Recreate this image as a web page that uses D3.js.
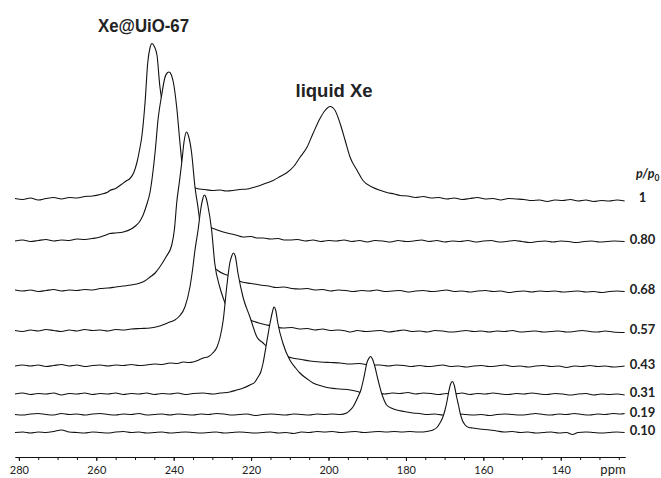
<!DOCTYPE html>
<html>
<head>
<meta charset="utf-8">
<script src="https://cdn.jsdelivr.net/npm/d3@7"></script>
<style>
body { margin: 0; background: #fff; }
</style>
</head>
<body>
<div id="chart"></div>
<script>
// relative pressures, top spectrum first
var pressures = ["1", "0.80", "0.68", "0.57", "0.43", "0.31", "0.19", "0.10"];

// each spectrum: [ppm, intensity above its own baseline]
var spec100 = [[281,1],[279,0],[277,1.5],[275,-0.5],[273,1],[271,2],[269,0.5],[267,2],[265,1.5],[263,3],[261,3.5],[259,5],[257,7.5],[256.5,9],[255,11],[253.9,14],[252.1,19],[251.3,21],[250.3,27],[249.5,37],[248.8,50],[248.2,64],[247.4,97],[246.7,137],[246.1,152],[245.6,156],[245,153],[244.3,144],[243.6,114],[243,97],[242.3,76],[241.5,56],[240.5,40],[239.5,29],[238,21],[236,15],[234,11],[232,10],[230,9],[228,9.5],[226.5,8.5],[224.7,9],[223,10],[221,10.5],[219.5,12],[217.7,14],[216,16.5],[214.3,19],[212.5,23],[210.7,27],[209,33],[207.4,42],[205.6,52],[204,66],[202.2,81],[200.9,89],[199.6,93],[198.3,89],[197,76],[195.7,59],[194.4,42],[192.6,29],[191.1,19],[188.5,12],[186.5,9],[184.9,7],[183,5.5],[181.5,4],[179.5,3.5],[177.5,2],[175.5,3],[173.5,1.5],[171.5,2],[169.5,0.5],[167.5,1.5],[165.5,0],[163.5,1],[161.5,2],[159.5,0.5],[157.5,1],[155.5,-0.5],[153.5,1],[151.5,0.5],[149.5,0],[147.5,-1],[145.5,-0.5],[143.5,-2],[141.5,-0.5],[139.5,-1],[137.5,0],[135.5,-1.5],[133.5,-0.5],[131.5,-2],[129.5,-1],[127.5,-1.5],[125.5,-0.5],[123.5,-1.5]];
var spec080 = [[281,0],[279,1],[277,-0.5],[275,0.5],[273,1.5],[271,0],[269,1],[267,0.5],[265,2],[263,1.5],[261,2.5],[259,4],[257.5,6],[256.5,7.5],[255,8],[253,9],[251,12],[249.6,16],[248.7,20],[247.9,26],[247,36],[246.1,49],[245.4,68],[244.8,89],[244,123],[243.1,146],[242.3,163],[241.7,168],[241.2,169],[240.6,166],[240.1,159],[239.2,133],[238.4,99],[237.9,79],[237,55],[236,38],[234.5,26],[233,19],[231.5,15],[230.1,13],[228,10],[226.2,8],[224,6],[222.1,4],[220,4.5],[218.5,3],[216.9,3],[215,2],[213,2.5],[211.5,1],[210,1],[208,1.5],[206,0],[204,1],[202,-0.5],[200,0.5],[198,0],[196,1],[194,-0.5],[192,0.5],[190,-1],[188,0.5],[186,0],[184,-1],[182,0.5],[180,-0.5],[178,0],[176,1],[174,-0.5],[172,0.5],[170,-1],[168,0],[166,-0.5],[164,0.5],[162,-1],[160,0],[158,0.5],[156,-1],[154,-0.5],[152,0.5],[150,-0.5],[148,-1.5],[146,-0.5],[144,0],[142,-1],[140,0],[138,-0.5],[136,-1.5],[134,-0.5],[132,0],[130,-1],[128,-0.5],[126,0],[123.5,-0.5]];
var spec068 = [[281,1],[279,0],[277,1],[275,-0.5],[273,0.5],[271,1.5],[269,0],[267,1],[265,0.5],[263,1.5],[261,1],[259,2.5],[257,3],[255,4],[253,5],[251,6],[248.7,8],[247.5,10],[246.1,14],[244.8,18],[243.6,24],[242,34],[240.5,46],[239.8,62],[239.2,89],[238.5,110],[237.9,129],[237.3,150],[236.7,159],[236.1,154],[235.4,139],[234.5,104],[233.7,83],[232.8,56],[231.9,40],[230.6,28],[228.8,21],[227,17],[225.5,15],[224,12],[222.4,9],[220,7.5],[217.7,6],[215.5,5],[213.5,3.5],[211.5,4],[209.5,2.5],[207.4,2],[205.5,2.5],[203.5,1],[201.5,1.5],[199.5,0],[197.5,1],[195.5,0.5],[193.5,-0.5],[191.5,0.5],[189.5,0],[187.5,1],[185.5,-0.5],[183.5,0],[181.5,0.5],[179.5,-1],[177.5,0],[175.5,0.5],[173.5,-0.5],[171.5,0],[169.5,1],[167.5,-0.5],[165.5,0],[163.5,-1],[161.5,0],[159.5,0.5],[157.5,-0.5],[155.5,0],[153.5,-1.5],[151.5,-0.5],[149.5,0],[147.5,-1],[145.5,0],[143.5,-0.5],[141.5,0],[139.5,-1],[137.5,-0.5],[135.5,0],[133.5,-1],[131.5,-0.5],[129.5,-1.5],[127.5,-0.5],[125.5,0],[123.5,-0.5]];
var spec057 = [[281,0.5],[279,-0.5],[277,1],[275,0],[273,1.5],[271,0.5],[269,-0.5],[267,1],[265,0],[263,1.5],[261,0.5],[259,1],[257,0],[255,1.5],[253,1],[251,2],[248.5,2.5],[246.1,3],[243.6,5],[241,9],[239.7,11],[238.5,15],[237.1,24],[235.8,44],[235.1,62],[234.5,81],[233.7,101],[233,122],[232.5,132],[232.1,136],[231.6,133],[231.2,126],[230.2,101],[229.4,68],[228.1,44],[227.3,34],[226,22],[224.5,17],[222.9,14],[221.5,12.5],[220.3,11],[218,8],[215.9,6],[213.5,4],[211.8,3],[209.5,3.5],[207.5,2],[205.5,2.5],[203.5,1],[201.5,2],[199.5,0.5],[197.5,1],[195.5,0],[194.4,-1],[192.5,0.5],[190.5,-0.5],[188.5,0],[186.5,0.5],[184.5,-1],[182.5,0],[180.5,1],[178.5,-0.5],[176.5,0],[174.5,-1],[172.5,0.5],[170.5,0],[168.5,-1],[166.5,-0.5],[164.5,0.5],[162.5,-0.5],[160.5,0],[158.5,-1],[156.5,0],[154.5,-0.5],[152.5,0.5],[150.5,-1],[148.5,-0.5],[146.5,0],[144.5,-1],[142.5,-0.5],[140.5,0],[138.5,-1],[136.5,-0.5],[134.5,0.5],[132.5,-0.5],[130.5,-1],[128.5,0],[126.5,-1],[123.5,-1.5]];
var spec043 = [[281,0],[279,1],[277,0],[275,1],[273,-0.5],[271,0.5],[269,1.5],[267,0],[265,1],[263,-0.5],[261,0.5],[259,1],[257,0],[255,1],[253,0.5],[251,1.5],[249,0.5],[247,1],[245,2],[243,1.5],[241,3],[239,2.5],[237.6,4],[236,3.5],[235,4],[233.5,6],[232.4,8],[231.2,9],[229.9,13],[228.8,19],[228,29],[227.2,46],[226.3,79],[225.5,103],[225,110],[224.6,113],[224.1,110],[223.4,93],[222.1,69],[220.3,49],[218.5,29],[216.9,23],[215.1,17],[213,13],[211,10],[209.4,8],[207,6.5],[204.8,5],[202,4],[199.5,3.5],[197,3],[194.5,2],[192,2.5],[189.5,1],[186.7,1],[184.5,0],[182.5,1],[180.5,0.5],[178.5,-0.5],[176.5,0.5],[174.5,-0.5],[172.5,0],[170.5,1],[168.5,-0.5],[166.5,0],[164.5,-1],[162.5,0],[160.5,0.5],[158.5,-0.5],[156.5,0],[154.5,1],[152.5,-0.5],[150.5,0],[148.5,-1],[146.5,0],[144.5,0.5],[142.5,-0.5],[140.5,0],[138.5,-1.5],[136.5,0],[134.5,-0.5],[132.5,0.5],[130.5,-0.5],[128.5,0],[126.5,-1],[123.5,0]];
var spec031 = [[281,0],[279,1],[277,-0.5],[275,0.5],[273,0],[271,1],[269,-1],[267,0.5],[265,0],[263,1],[261,-0.5],[259,0.5],[257,0],[255,1],[253,-0.5],[251,0.5],[249,0],[247,1],[245,-0.5],[243,0.5],[241,0],[239,1],[237,-0.5],[235,0.5],[232.4,1],[230,0],[228,1],[225.5,2],[223.7,4],[222,6],[220.3,9],[219,12],[218.2,17],[217.5,22],[216.9,31],[216,51],[215.1,71],[214.5,82],[214.1,87],[213.6,83],[213.1,71],[211.8,51],[210,34],[208.5,26],[207.4,21],[205.5,15],[204,11],[201.8,8],[199.6,6],[197,5],[194.4,4],[192.5,2.5],[191.3,1],[189.5,0.5],[187.5,1],[185.5,0],[183.5,1],[181.5,0.5],[179.5,1.5],[177.5,0],[175.5,1],[173.5,0.5],[171.5,-0.5],[169.5,0.5],[167.5,0],[165.5,1],[163.5,-0.5],[161.5,0.5],[159.5,0],[157.5,1],[155.5,0],[153.5,-0.5],[151.5,0.5],[149.5,0],[147.5,1],[145.5,0],[143.5,-0.5],[141.5,0.5],[139.5,0],[137.5,-1],[135.5,0],[133.5,0.5],[131.5,-1],[129.5,0],[127.5,-0.5],[125.5,0],[123.5,-1]];
var spec019 = [[281,0],[279,-0.5],[277,0.5],[275,1],[273,0],[271,-0.5],[269,1],[267,0],[265,0.5],[263,-0.5],[261,0.5],[259,1],[257,0],[255,-0.5],[253,0.5],[251,0],[249,1],[247,-0.5],[245,0],[243,0.5],[241,-0.5],[239,0.5],[237,0],[235,-0.5],[233,0.5],[231,0],[229,1],[227,0.5],[225,-0.5],[223,0],[221,0.5],[219,-1],[217,0],[215,0.5],[213,0],[211,-0.5],[209,0.5],[207,0],[205,-0.5],[203,0.5],[201,0],[199,0.5],[197,0],[195.3,1.5],[194.5,4],[193.7,7.5],[192.4,17.5],[191.6,25],[191,34.5],[190.5,44],[190.1,51.5],[189.6,56],[189.1,58],[188.6,55],[188,47.5],[187.2,34.5],[186.3,21.5],[185.6,14],[185,9.5],[183.5,6],[182.4,4.5],[180.5,3],[178.2,1.5],[176.5,1],[174.5,0],[172.5,0.5],[170.5,-0.5],[168.5,0],[166.5,0.5],[164.5,0],[162.5,-0.5],[160.5,0],[158.5,-1],[156.5,0],[154.5,0.5],[152.5,0],[150.5,-0.5],[148.5,0],[146.5,1],[144.5,0],[142.5,-0.5],[140.5,0.5],[138.5,0],[136.5,1],[134.5,0],[132.5,-0.5],[130.5,0.5],[128.5,0],[126.5,1],[124.5,0.5],[123.5,1]];
var spec010 = [[281,0],[279,0.5],[277,-0.5],[275,0.5],[273,0],[271,1],[269,2.5],[267,0.5],[265,0],[263,-0.5],[261,0.5],[259,0],[257,-0.5],[255,0.5],[253,1],[251,0],[249,0.5],[247,-0.5],[245,0],[243,0.5],[241,-0.5],[239,0],[237,0.5],[235,0],[233,-0.5],[231,0],[229,0.5],[227,-0.5],[225,0],[223,0.5],[221,0],[219,-0.5],[217,0],[215,0.5],[213,-0.5],[211,0],[209,-1],[207,0.5],[205,0],[203,1],[201,0.5],[199,1],[197,0],[195,0.5],[193,1],[191,0],[189,0.5],[187,1],[185,0.5],[183,1],[181,0.5],[179,1],[177,0.5],[175.6,0.5],[174,1.5],[173,2.5],[172,5],[171.2,9.5],[170.5,15],[169.9,22.5],[169.4,31],[169,39.5],[168.5,48],[168,51],[167.5,47],[166.9,35.5],[166.4,27],[166,19.5],[165.4,12],[164.7,7.5],[163.7,5],[162.7,4.5],[161,3.5],[158.3,2.5],[156.5,1.5],[154.5,0.5],[152.5,1],[150.5,0],[148.5,0.5],[146.5,-0.5],[144.5,0],[142.5,0.5],[140.5,-0.5],[138.5,0],[137,-2],[135.5,0],[133.5,0.5],[131.5,0],[129.5,-0.5],[127.5,0],[125.5,0.5],[123.5,0]];

var spectra = [spec100, spec080, spec068, spec057, spec043, spec031, spec019, spec010];
var ppmTicks = [280, 260, 240, 220, 200, 180, 160, 140];
var ppmMinor = [280,275,270,265,260,255,250,245,240,235,230,225,220,215,210,205,200,195,190,185,180,175,170,165,160,155,150,145,140,135,130,125];

// layout
var width = 661, height = 478;
var axisY = 457;
// vertical stacking offset of each spectrum (intensity units)
var offsets = [233, 191.5, 141.5, 101.5, 66.5, 38.5, 18, 0];

var svg = d3.select("#chart")
  .append("svg")
  .attr("width", width)
  .attr("height", height);

var x = d3.scaleLinear()
  .domain([281, 123.4])
  .range([15, 625]);

var y = d3.scaleLinear()
  .domain([0, 430])
  .range([432.5, 2.5]);

// draw top spectrum first, lower ones paint white over what sits behind them
spectra.forEach(function(spec, i){
  var off = offsets[i];
  var area = d3.area()
    .x(function(d){ return x(d[0]); })
    .y0(axisY - 1)
    .y1(function(d){ return y(d[1] + off); })
    .curve(d3.curveMonotoneX);
  var line = d3.line()
    .x(function(d){ return x(d[0]); })
    .y(function(d){ return y(d[1] + off); })
    .curve(d3.curveMonotoneX);

  svg.append("path")
    .datum(spec)
    .attr("d", area)
    .attr("fill", "#fff");
  svg.append("path")
    .datum(spec)
    .attr("d", line)
    .attr("fill", "none")
    .attr("stroke", "#111")
    .attr("stroke-width", 1.1)
    .attr("stroke-linejoin", "round");

  svg.append("text")
    .attr("x", 642.5)
    .attr("y", y(off) + 2.5)
    .attr("text-anchor", "middle")
    .style("font-family", "Lato, 'DejaVu Sans', sans-serif")
    .style("font-weight", "bold")
    .style("font-size", "13px")
    .attr("fill", "#222")
    .text(pressures[i]);
});

// p/p0 header
var pp = svg.append("text")
  .attr("x", 636)
  .attr("y", 178)
  .style("font-family", "Lato, 'DejaVu Sans', sans-serif")
  .style("font-weight", "bold")
  .style("font-size", "12.5px")
  .attr("fill", "#222");
pp.append("tspan").style("font-style", "italic").text("p/p");
pp.append("tspan").attr("dy", 3).style("font-size", "8.5px").text("0");

// x axis
var minorAxis = d3.axisBottom(x)
  .tickValues(ppmMinor)
  .tickSize(3)
  .tickSizeOuter(0)
  .tickFormat("");
var majorAxis = d3.axisBottom(x)
  .tickValues(ppmTicks)
  .tickSize(4)
  .tickSizeOuter(0)
  .tickPadding(5)
  .tickFormat(d3.format("d"));

svg.append("g")
  .attr("class", "x axis minor")
  .attr("transform", "translate(0," + axisY + ")")
  .call(minorAxis);
var gx = svg.append("g")
  .attr("class", "x axis")
  .attr("transform", "translate(0," + axisY + ")")
  .call(majorAxis);
gx.selectAll("text")
  .style("font-family", "Lato, 'DejaVu Sans', sans-serif")
  .style("font-size", "11px")
  .attr("fill", "#222");
svg.selectAll(".axis path, .axis line").attr("stroke", "#111");

svg.append("text")
  .attr("x", 613)
  .attr("y", 474)
  .attr("text-anchor", "middle")
  .style("font-family", "Lato, 'DejaVu Sans', sans-serif")
  .style("font-size", "13px")
  .attr("fill", "#222")
  .text("ppm");

// peak labels
svg.append("text")
  .attr("x", 98)
  .attr("y", 31.5)
  .attr("textLength", 91)
  .attr("lengthAdjust", "spacingAndGlyphs")
  .style("font-family", "'Liberation Sans', Arial, sans-serif")
  .style("font-weight", "bold")
  .style("font-size", "18.5px")
  .attr("fill", "#222")
  .text("Xe@UiO-67");

svg.append("text")
  .attr("x", 295.5)
  .attr("y", 96.5)
  .style("font-family", "'Liberation Sans', Arial, sans-serif")
  .style("font-weight", "bold")
  .style("font-size", "18.5px")
  .attr("fill", "#222")
  .text("liquid Xe");
</script>
</body>
</html>
